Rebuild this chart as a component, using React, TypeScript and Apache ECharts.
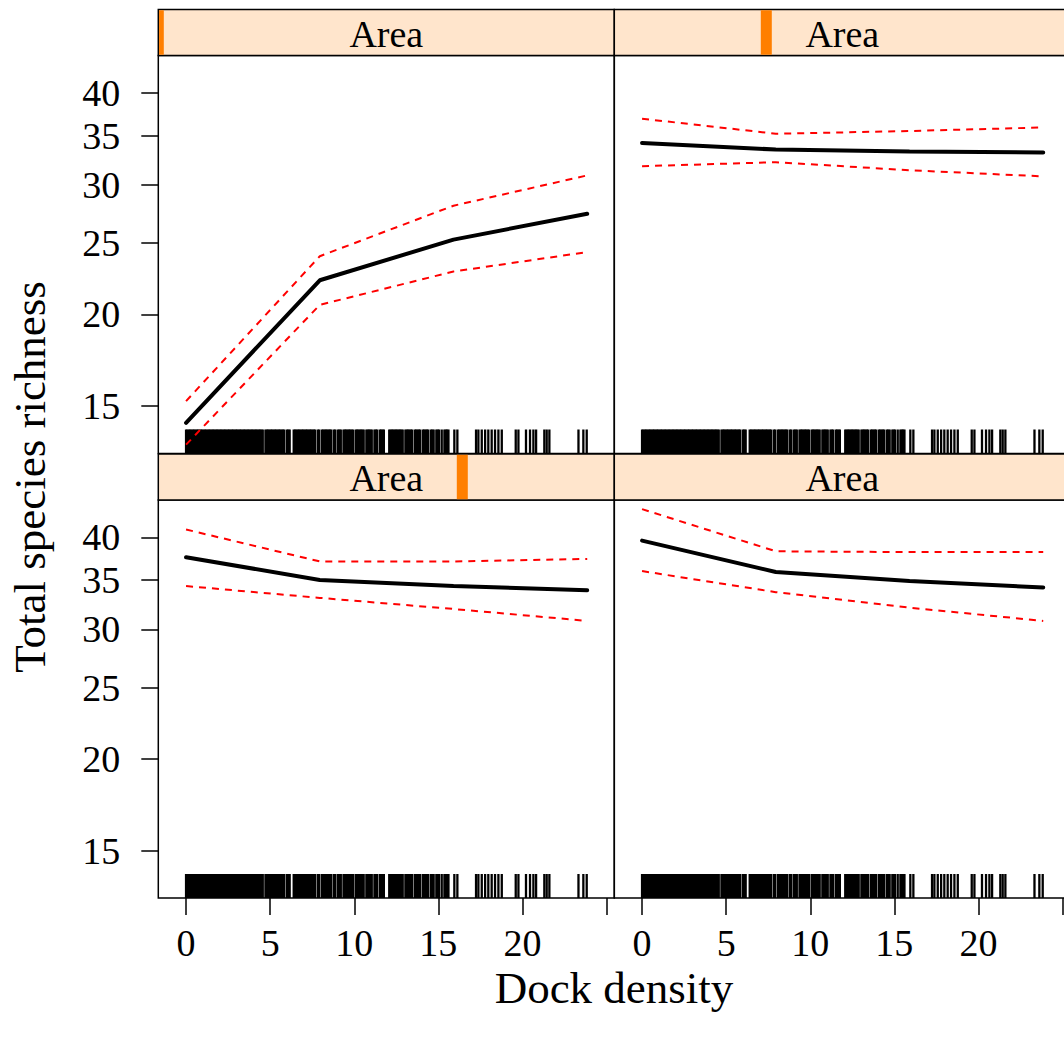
import React, { useEffect, useRef } from "react";
import * as echarts from "echarts";

// ---- data ----
const xLevels = [0, 7.95, 15.9, 23.85];

const fitTL = [14.24, 22.25, 25.27, 27.4];
const upperTL = [15.24, 23.99, 28.1, 30.9];
const lowerTL = [13.3, 20.6, 22.87, 24.3];

const fitTR = [34.2, 33.5, 33.3, 33.2];
const upperTR = [36.9, 35.2, 35.5, 35.9];
const lowerTR = [31.8, 32.2, 31.4, 30.8];

const fitBL = [37.6, 35.0, 34.35, 33.9];
const upperBL = [41.0, 37.1, 37.1, 37.4];
const lowerBL = [34.35, 33.1, 31.97, 30.8];

const fitBR = [39.6, 35.9, 34.9, 34.2];
const upperBR = [43.7, 38.3, 38.2, 38.2];
const lowerBR = [36.0, 33.7, 32.1, 30.8];

// strip indicator positions (fraction of Area range) per panel: TL, TR, BL, BR
const areaLevelFrac = [0, 1 / 3, 2 / 3, 1];
const stripLabel = "Area";

const yTickValues = [15, 20, 25, 30, 35, 40];
const xTickValues = [0, 5, 10, 15, 20, 25];
const xLabelValues = [0, 5, 10, 15, 20];

const rugValues = [
  0.0, 0.08, 0.16, 0.24, 0.32, 0.4, 0.48, 0.56, 0.64, 0.72, 0.8, 0.88, 0.96, 1.04, 1.12, 1.2,
  1.28, 1.36, 1.44, 1.52, 1.6, 1.68, 1.76, 1.84, 1.92, 2.0, 2.08, 2.16, 2.24, 2.32, 2.4, 2.48,
  2.56, 2.64, 2.72, 2.8, 2.88, 2.96, 3.04, 3.12, 3.2, 3.28, 3.36, 3.44, 3.52, 3.6, 3.68, 3.76,
  3.84, 3.92, 4.0, 4.08, 4.16, 4.24, 4.32, 4.4, 4.48, 4.56, 4.72, 4.8, 4.88, 4.96, 5.04, 5.12,
  5.2, 5.28, 5.36, 5.44, 5.52, 5.6, 5.68, 5.76, 5.84, 6.0, 6.08, 6.16, 6.4, 6.48, 6.56, 6.64,
  6.72, 6.8, 6.88, 6.96, 7.04, 7.12, 7.2, 7.28, 7.36, 7.44, 7.52, 7.6, 7.68, 7.84, 7.92, 8.08,
  8.16, 8.24, 8.32, 8.4, 8.48, 8.56, 8.64, 8.8, 8.88, 9.04, 9.12, 9.2, 9.36, 9.44, 9.52, 9.6,
  9.68, 9.76, 9.84, 9.92, 10.08, 10.16, 10.24, 10.32, 10.4, 10.48, 10.56, 10.72, 10.8, 10.88,
  10.96, 11.04, 11.2, 11.28, 11.36, 11.52, 11.6, 11.68, 11.76, 12.08, 12.16, 12.24, 12.32,
  12.4, 12.48, 12.56, 12.64, 12.72, 12.8, 12.88, 13.04, 13.12, 13.2, 13.28, 13.36, 13.44,
  13.6, 13.68, 13.76, 13.84, 13.92, 14.08, 14.16, 14.24, 14.32, 14.4, 14.56, 14.64, 14.72,
  14.88, 14.96, 15.04, 15.2, 15.36, 15.44, 15.52, 15.6,
  15.95, 16.13, 17.24, 17.38, 17.58, 17.78, 17.97, 18.17, 18.37, 18.57, 18.77,
  19.6, 19.76, 20.21, 20.45, 20.65, 20.81, 21.3, 21.44, 21.6, 23.33, 23.62, 23.82,
];

// ---- layout ----
const FONT = "Liberation Serif";
const X_MIN = -1.65;
const X_MAX = 25.46;
const Y_MIN = 2.56; // ln scale
const Y_MAX = 3.806;
const PANEL_W = 456;
const PANEL_H = 398;
const STRIP_H = 46;
const COL_LEFT = [158.3, 614.3];
const ROW_TOP = [9.5, 454];

const panels = [
  { fit: fitTL, upper: upperTL, lower: lowerTL, col: 0, row: 0 },
  { fit: fitTR, upper: upperTR, lower: lowerTR, col: 1, row: 0 },
  { fit: fitBL, upper: upperBL, lower: lowerBL, col: 0, row: 1 },
  { fit: fitBR, upper: upperBR, lower: lowerBR, col: 1, row: 1 },
];

function buildOption() {
  const grid: any[] = [];
  const xAxis: any[] = [];
  const yAxis: any[] = [];
  const series: any[] = [];
  const graphic: any[] = [];

  panels.forEach((p, i) => {
    const left = COL_LEFT[p.col];
    const stripTop = ROW_TOP[p.row];
    const panelTop = stripTop + STRIP_H;
    const isBottom = p.row === 1;
    const isLeft = p.col === 0;

    // panel grid
    const gi = grid.length;
    grid.push({
      left,
      top: panelTop,
      width: PANEL_W,
      height: PANEL_H,
      show: true,
      borderColor: "#000",
      borderWidth: 1.5,
      backgroundColor: "transparent",
    });
    xAxis.push({
      type: "value",
      gridIndex: gi,
      position: "bottom",
      min: X_MIN,
      max: X_MAX,
      axisLine: { show: false, onZero: false },
      splitLine: { show: false },
      axisTick: {
        show: isBottom,
        length: 17,
        lineStyle: { color: "#000", width: 1.5 },
        customValues: xTickValues,
      },
      axisLabel: {
        show: isBottom,
        customValues: xLabelValues,
        fontSize: 38,
        fontFamily: FONT,
        color: "#000",
        margin: 26,
      },
    });
    yAxis.push({
      type: "value",
      gridIndex: gi,
      position: "left",
      min: Y_MIN,
      max: Y_MAX,
      axisLine: { show: false, onZero: false },
      splitLine: { show: false },
      axisTick: {
        show: isLeft,
        length: 17,
        lineStyle: { color: "#000", width: 1.5 },
        customValues: yTickValues.map((v) => Math.log(v)),
      },
      axisLabel: {
        show: isLeft,
        customValues: yTickValues.map((v) => Math.log(v)),
        formatter: (v: number) => String(Math.round(Math.exp(v))),
        fontSize: 38,
        fontFamily: FONT,
        color: "#000",
        margin: 38,
      },
    });

    const toData = (arr: number[]) => xLevels.map((x, k) => [x, Math.log(arr[k])]);
    series.push({
      type: "custom",
      xAxisIndex: gi,
      yAxisIndex: gi,
      data: rugValues.map((v) => [v, Y_MIN]),
      encode: { x: 0, y: 1 },
      silent: true,
      renderItem: (params: any, api: any) => {
        const pt = api.coord([api.value(0), Y_MIN]);
        return {
          type: "line",
          shape: { x1: pt[0], y1: pt[1], x2: pt[0], y2: pt[1] - 24 },
          style: { stroke: "#000", lineWidth: 2.3 },
        };
      },
    });
    [p.upper, p.lower].forEach((arr) => {
      series.push({
        type: "line",
        xAxisIndex: gi,
        yAxisIndex: gi,
        data: toData(arr),
        symbol: "none",
        clip: true,
        lineStyle: { color: "#FF0000", width: 2, type: [7, 6] },
      });
    });
    series.push({
      type: "line",
      xAxisIndex: gi,
      yAxisIndex: gi,
      data: toData(p.fit),
      symbol: "none",
      clip: true,
      lineStyle: { color: "#000", width: 4, cap: "round" },
    });

    // strip grid
    const si = grid.length;
    grid.push({
      left,
      top: stripTop,
      width: PANEL_W,
      height: STRIP_H,
      show: true,
      borderColor: "#000",
      borderWidth: 1.5,
      backgroundColor: "#FFE5CC",
    });
    xAxis.push({ type: "value", gridIndex: si, min: 0, max: 1, show: false });
    yAxis.push({ type: "value", gridIndex: si, min: 0, max: 1, show: false });
    series.push({
      type: "custom",
      xAxisIndex: si,
      yAxisIndex: si,
      data: [[areaLevelFrac[i], 0]],
      encode: { x: 0, y: 1 },
      silent: true,
      renderItem: (params: any, api: any) => {
        const cs = params.coordSys;
        const c = api.coord([api.value(0), 0]);
        const x1 = Math.max(c[0] - 5.5, cs.x + 0.75);
        const x2 = Math.min(c[0] + 5.5, cs.x + cs.width - 0.75);
        return {
          type: "rect",
          shape: { x: x1, y: cs.y + 0.75, width: Math.max(0, x2 - x1), height: cs.height - 1.5 },
          style: { fill: "#FF7F00" },
        };
      },
    });
    graphic.push({
      type: "text",
      x: left + PANEL_W / 2,
      y: stripTop + STRIP_H / 2 + 1,
      z: 100,
      style: {
        text: stripLabel,
        fontSize: 38,
        fontFamily: FONT,
        fill: "#000",
        align: "center",
        verticalAlign: "middle",
      },
    });
  });

  graphic.push({
    type: "text",
    x: 30,
    y: 477,
    rotation: Math.PI / 2,
    style: {
      text: "Total species richness",
      fontSize: 45,
      fontFamily: FONT,
      fill: "#000",
      align: "center",
      verticalAlign: "middle",
    },
  });
  graphic.push({
    type: "text",
    x: 614,
    y: 988,
    style: {
      text: "Dock density",
      fontSize: 45,
      fontFamily: FONT,
      fill: "#000",
      align: "center",
      verticalAlign: "middle",
    },
  });

  return {
    animation: false,
    backgroundColor: "#fff",
    grid,
    xAxis,
    yAxis,
    series,
    graphic,
  };
}

export default function App() {
  const ref = useRef<HTMLDivElement>(null);
  useEffect(() => {
    document.body.style.margin = "0";
    if (!ref.current) return;
    const chart = echarts.init(ref.current, null, { renderer: "svg" });
    chart.setOption(buildOption() as any);
    return () => chart.dispose();
  }, []);
  return (
    <div style={{ width: 1064, height: 1041, overflow: "hidden", position: "relative" }}>
      <div ref={ref} style={{ width: 1090, height: 1041 }} />
    </div>
  );
}
